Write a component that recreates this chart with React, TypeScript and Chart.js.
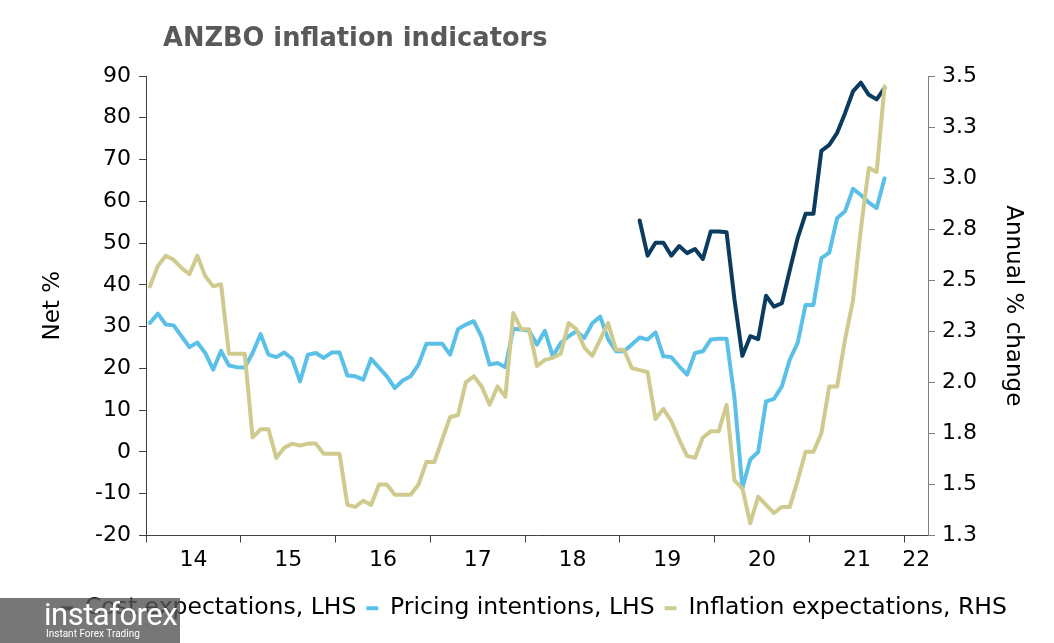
import React, { useEffect, useRef } from 'react';
import { Chart, registerables } from 'chart.js';

Chart.register(...registerables);

// ---- Data (monthly, first point = Jan 2014) ----
const TITLE = 'ANZBO inflation indicators';
const X_MAX_MONTHS = 99; // axis runs to end of Mar 2022
const yearLabels = ['14', '15', '16', '17', '18', '19', '20', '21', '22'];
const rightTickValues = [1.25, 1.5, 1.75, 2.0, 2.25, 2.5, 2.75, 3.0, 3.25, 3.5];
const seriesNames = ['Cost expectations, LHS', 'Pricing intentions, LHS', 'Inflation expectations, RHS'];

const pricingIntentions = [
  30.9, 33.1, 30.5, 30.3, 27.7, 25.1, 26.2, 23.7, 19.7, 24.2, 20.7, 20.3,
  20.2, 23.7, 28.2, 23.3, 22.7, 23.8, 22.3, 16.9, 23.3, 23.7, 22.5, 23.8,
  23.8, 18.3, 18.1, 17.3, 22.3, 20.2, 18.1, 15.3, 17.1, 18.1, 20.9, 25.9,
  25.9, 25.9, 23.3, 29.4, 30.5, 31.3, 27.5, 20.9, 21.3, 20.3, 29.5, 29.3,
  29.0, 25.7, 29.0, 22.9, 26.1, 27.7, 28.9, 27.3, 30.8, 32.4, 27.0, 24.1,
  24.1, 25.7, 27.4, 26.9, 28.6, 22.9, 22.7, 20.5, 18.5, 23.7, 24.1, 26.9,
  27.1, 27.1, 13.0, -8.6, -1.8, 0.0, 12.1, 12.7, 15.7, 22.1, 26.1, 35.2,
  35.2, 46.4, 47.7, 56.0, 57.6, 63.0, 61.5, 59.7, 58.4, 65.5,
];

const COST_START_INDEX = 62; // Mar 2019
const costExpectations = [
  55.4, 47.0, 50.1, 50.1, 47.0, 49.3, 47.6, 48.6, 46.2, 52.8,
  52.8, 52.6, 36.5, 23.0, 27.7, 27.0, 37.4, 34.8, 35.6, 43.5,
  51.2, 57.0, 57.0, 72.1, 73.5, 76.4, 81.1, 86.3, 88.4, 85.5,
  84.4, 87.1,
];

const inflationExpectations = [
  2.47, 2.57, 2.62, 2.60, 2.56, 2.53, 2.62, 2.52, 2.47, 2.48, 2.14, 2.14,
  2.14, 1.73, 1.77, 1.77, 1.63, 1.68, 1.70, 1.69, 1.70, 1.70, 1.65, 1.65,
  1.65, 1.40, 1.39, 1.42, 1.40, 1.50, 1.50, 1.45, 1.45, 1.45, 1.50, 1.61,
  1.61, 1.72, 1.83, 1.84, 2.00, 2.03, 1.98, 1.89, 1.98, 1.93, 2.34, 2.26,
  2.26, 2.08, 2.11, 2.12, 2.14, 2.29, 2.26, 2.17, 2.13, 2.21, 2.29, 2.16,
  2.16, 2.07, 2.06, 2.05, 1.82, 1.87, 1.81, 1.72, 1.64, 1.63, 1.73, 1.76,
  1.76, 1.89, 1.52, 1.48, 1.31, 1.44, 1.40, 1.36, 1.39, 1.39, 1.52, 1.66,
  1.66, 1.75, 1.98, 1.98, 2.21, 2.40, 2.75, 3.05, 3.03, 3.45,
];

const COLORS = {
  cost: '#0b3c60',
  pricing: '#5bc0e8',
  inflation: '#cfca8e',
};

const FONT = 'DejaVu Sans';

// points centred in their month slot
const toPoints = (arr: number[], start = 0) =>
  arr.map((v, i) => ({ x: start + i + 0.5, y: v }));

// x ticks: year boundaries (marks) and mid-year positions (labels)
const xTickDefs: { value: number; label: string; mark: boolean }[] = [];
yearLabels.forEach((lab, k) => {
  const b = k * 12;
  if (b <= X_MAX_MONTHS) xTickDefs.push({ value: b, label: '', mark: true });
  const mid = Math.min(b + 6, (b + X_MAX_MONTHS) / 2);
  xTickDefs.push({ value: mid, label: lab, mark: false });
});

const titlePlugin = {
  id: 'customTitle',
  afterDraw(chart: any) {
    const { ctx, chartArea } = chart;
    ctx.save();
    ctx.font = `bold 25.7px "${FONT}"`;
    ctx.fillStyle = '#595959';
    ctx.textBaseline = 'alphabetic';
    ctx.textAlign = 'left';
    ctx.fillText(TITLE, chartArea.left + 17, 46);
    ctx.restore();
  },
};

export default function App() {
  const canvasRef = useRef<HTMLCanvasElement | null>(null);

  useEffect(() => {
    if (!canvasRef.current) return;
    const chart = new Chart(canvasRef.current, {
      type: 'line',
      data: {
        datasets: [
          {
            label: seriesNames[0],
            data: toPoints(costExpectations, COST_START_INDEX),
            borderColor: COLORS.cost,
            backgroundColor: COLORS.cost,
            yAxisID: 'y',
            order: 1,
          },
          {
            label: seriesNames[1],
            data: toPoints(pricingIntentions),
            borderColor: COLORS.pricing,
            backgroundColor: COLORS.pricing,
            yAxisID: 'y',
            order: 2,
          },
          {
            label: seriesNames[2],
            data: toPoints(inflationExpectations),
            borderColor: COLORS.inflation,
            backgroundColor: COLORS.inflation,
            yAxisID: 'y1',
            order: 0,
          },
        ] as any,
      },
      options: {
        animation: false,
        responsive: true,
        maintainAspectRatio: false,
        elements: {
          line: { borderWidth: 4, tension: 0, borderJoinStyle: 'round', borderCapStyle: 'round' },
          point: { radius: 0, hoverRadius: 0 },
        },
        layout: { padding: { top: 76, left: 34, right: 20, bottom: 13 } },
        plugins: {
          tooltip: { enabled: false },
          title: { display: false },
          legend: {
            display: true,
            position: 'bottom',
            labels: {
              boxWidth: 12,
              boxHeight: 4,
              padding: 10,
              color: '#000',
              font: { family: FONT, size: 23.5 },
              sort: (a: any, b: any) => a.datasetIndex - b.datasetIndex,
              generateLabels: (chart: any) =>
                (Chart.defaults.plugins.legend.labels.generateLabels as any)(chart).map((it: any) => ({
                  ...it,
                  lineWidth: 0,
                  strokeStyle: 'rgba(0,0,0,0)',
                })),
            },
          },
        },
        scales: {
          x: {
            type: 'linear',
            min: 0,
            max: X_MAX_MONTHS,
            position: 'bottom',
            border: { display: true, color: '#404040', width: 1 },
            grid: {
              display: true,
              drawOnChartArea: false,
              drawTicks: true,
              tickLength: 7,
              tickColor: (ctx: any) => {
                const d = xTickDefs[ctx.index];
                return d && d.mark ? '#404040' : 'rgba(0,0,0,0)';
              },
            },
            afterBuildTicks: (scale: any) => {
              scale.ticks = xTickDefs.map((d) => ({ value: d.value }));
            },
            ticks: {
              autoSkip: false,
              maxRotation: 0,
              padding: 5,
              color: '#000',
              font: { family: FONT, size: 22 },
              callback: (_v: any, i: number) => xTickDefs[i]?.label ?? '',
            },
            afterFit: (scale: any) => {
              scale.height = 51;
            },
          },
          y: {
            type: 'linear',
            position: 'left',
            min: -20,
            max: 90,
            border: { display: true, color: '#404040', width: 1 },
            grid: { drawOnChartArea: false, drawTicks: true, tickLength: 7, tickColor: '#404040' },
            ticks: { stepSize: 10, padding: 8, color: '#000', font: { family: FONT, size: 22 } },
            title: {
              display: true,
              text: 'Net %',
              color: '#000',
              font: { family: FONT, size: 23 },
              padding: { top: 5, bottom: 0 },
            },
            afterFit: (scale: any) => {
              scale.width = 112;
            },
          },
          y1: {
            type: 'linear',
            position: 'right',
            min: 1.25,
            max: 3.5,
            border: { display: true, color: '#808080', width: 1 },
            grid: { drawOnChartArea: false, drawTicks: true, tickLength: 7, tickColor: '#808080' },
            afterBuildTicks: (scale: any) => {
              scale.ticks = rightTickValues.map((v) => ({ value: v }));
            },
            ticks: {
              padding: 7,
              color: '#000',
              font: { family: FONT, size: 22 },
              callback: (v: any) => Number(v).toFixed(1),
            },
            title: {
              display: true,
              text: 'Annual % change',
              color: '#000',
              font: { family: FONT, size: 23 },
              padding: { top: 7, bottom: 0 },
            },
            afterFit: (scale: any) => {
              scale.width = 106;
            },
          },
        },
      } as any,
      plugins: [titlePlugin],
    });
    return () => chart.destroy();
  }, []);

  return (
    <div style={{ position: 'fixed', left: 0, top: 0, width: 1054, height: 643, background: '#fff' }}>
      <canvas ref={canvasRef} />
      <div
        style={{
          position: 'absolute',
          left: 0,
          top: 598,
          width: 180,
          height: 45,
          background: 'rgba(85,85,85,0.8)',
          color: '#fff',
          fontFamily: 'Roboto, sans-serif',
          pointerEvents: 'none',
        }}
      >
        <div style={{ position: 'absolute', left: 44, top: -2, fontSize: 31, letterSpacing: -0.5 }}>instaforex</div>
        <div style={{ position: 'absolute', left: 46, top: 30, fontSize: 10 }}>Instant Forex Trading</div>
      </div>
    </div>
  );
}
